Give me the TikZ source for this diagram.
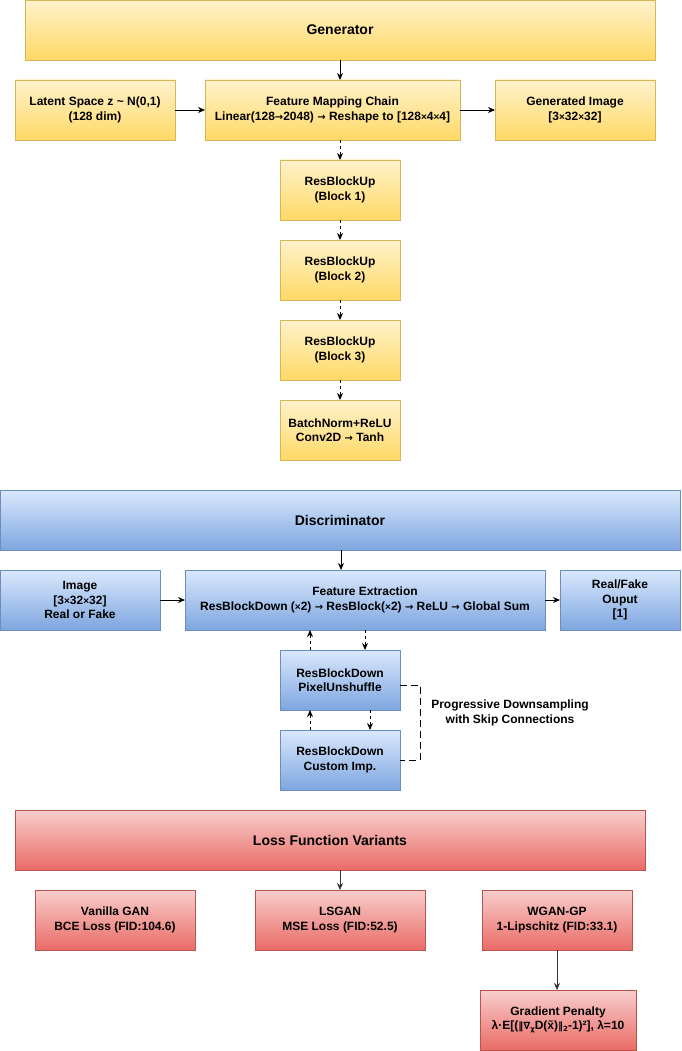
\documentclass[tikz,border=0pt]{standalone}
\usepackage{fontspec}
\setmainfont{Liberation Sans}
\newfontfamily\dejavu{DejaVu Sans}
\usetikzlibrary{arrows.meta}
\definecolor{yTop}{HTML}{FFF2CC}
\definecolor{yBot}{HTML}{FFD966}
\definecolor{yLine}{HTML}{D6B656}
\definecolor{bTop}{HTML}{DAE8FC}
\definecolor{bBot}{HTML}{7EA6E0}
\definecolor{bLine}{HTML}{6C8EBF}
\definecolor{rTop}{HTML}{F8CECC}
\definecolor{rBot}{HTML}{EA6B66}
\definecolor{rLine}{HTML}{B85450}
\newcommand{\xx}{{\fontsize{10}{12}\selectfont ×}}
\newcommand{\ar}{{\dejavu\fontsize{10}{12}\selectfont →}}
\tikzset{
  box/.style={rectangle, inner sep=0pt, outer sep=0pt, line width=0.8pt, align=center,
    font=\fontsize{12}{14.5}\selectfont\bfseries},
  ybox/.style={box, draw=yLine, top color=yTop, bottom color=yBot},
  bbox/.style={box, draw=bLine, top color=bTop, bottom color=bBot},
  rbox/.style={box, draw=rLine, top color=rTop, bottom color=rBot},
  title/.style={font=\fontsize{14}{16}\selectfont\bfseries},
  arr/.style={-{Stealth[length=7pt,width=6pt]}, line width=0.8pt},
  darr/.style={arr, dash pattern=on 3pt off 3pt},
  gridl/.style={line width=0.8pt, dash pattern=on 7pt off 4pt},
}
\begin{document}
\begin{tikzpicture}[x=1pt,y=-1pt]
\useasboundingbox (0,0) rectangle (681,1051);
% Generator
\node[ybox, title, minimum width=630, minimum height=60] (gen) at (340,30) {Generator};
\node[ybox, minimum width=160, minimum height=60] (lat) at (95,110) {Latent Space z \textasciitilde\ N(0,1)\\(128 dim)};
\node[ybox, minimum width=255, minimum height=60] (fmc) at (332.5,110) {Feature Mapping Chain\\Linear(128\ar2048) \ar\ Reshape to [128\xx4\xx4]};
\node[ybox, minimum width=160, minimum height=60] (gim) at (575,110) {Generated Image\\\relax[3\xx32\xx32]};
\node[ybox, minimum width=120, minimum height=60] (rb1) at (340,190) {ResBlockUp\\(Block 1)};
\node[ybox, minimum width=120, minimum height=60] (rb2) at (340,270) {ResBlockUp\\(Block 2)};
\node[ybox, minimum width=120, minimum height=60] (rb3) at (340,350) {ResBlockUp\\(Block 3)};
\node[ybox, minimum width=120, minimum height=60] (bn) at (340,430) {BatchNorm+ReLU\\Conv2D \ar\ Tanh};
\draw[arr] (gen.south -| 340,0) -- (fmc.north -| 340,0);
\draw[arr] (lat.east) -- (fmc.west);
\draw[arr] (fmc.east) -- (gim.west);
\draw[darr] (fmc.south -| rb1.north) -- (rb1.north);
\draw[darr] (rb1.south) -- (rb2.north);
\draw[darr] (rb2.south) -- (rb3.north);
\draw[darr] (rb3.south) -- (bn.north);
% Discriminator
\node[bbox, title, minimum width=680, minimum height=60] (dis) at (340,520) {Discriminator};
\node[bbox, minimum width=160, minimum height=60] (img) at (80,600) {Image\\\relax[3\xx32\xx32]\\Real or Fake};
\node[bbox, minimum width=360, minimum height=60] (fe) at (365,600) {Feature Extraction\\ResBlockDown (\xx2) \ar\ ResBlock(\xx2) \ar\ ReLU \ar\ Global Sum};
\node[bbox, minimum width=120, minimum height=60] (rf) at (620,600) {Real/Fake\\Ouput\\\relax[1]};
\node[bbox, minimum width=120, minimum height=60] (pu) at (340,680) {ResBlockDown\\PixelUnshuffle};
\node[bbox, minimum width=120, minimum height=60] (ci) at (340,760) {ResBlockDown\\Custom Imp.};
\node[box, anchor=center] (prog) at (510,713) {Progressive Downsampling\\with Skip Connections};
\coordinate (bra) at (420,685);
\coordinate (brb) at (420,760);
\draw[arr] (dis.south -| 341,0) -- (fe.north -| 341,0);
\draw[arr] (img.east) -- (fe.west);
\draw[arr] (fe.east) -- (rf.west);
\draw[darr] (pu.north -| 310,0) -- (fe.south -| 310,0);
\draw[darr] (fe.south -| 365,0) -- (pu.north -| 365,0);
\draw[darr] (ci.north -| 310,0) -- (pu.south -| 310,0);
\draw[darr] (pu.south -| 370,0) -- (ci.north -| 370,0);
\draw[gridl] (pu.east |- bra) -- (bra) -- (brb) -- (ci.east |- brb);
% Loss
\node[rbox, title, minimum width=630, minimum height=60] (loss) at (330,840) {Loss Function Variants};
\node[rbox, minimum width=160, minimum height=60] (van) at (115,920) {Vanilla GAN\\BCE Loss (FID:104.6)};
\node[rbox, minimum width=170, minimum height=60] (ls) at (340,920) {LSGAN\\MSE Loss (FID:52.5)};
\node[rbox, minimum width=150, minimum height=60] (wg) at (557,920) {WGAN-GP\\1-Lipschitz (FID:33.1)};
\node[rbox, minimum width=156, minimum height=60] (gp) at (558,1020) {Gradient Penalty\\λ·E[({\dejavu\fontsize{10}{12}\selectfont ‖∇\raisebox{-0.4ex}{\fontsize{7}{8}\selectfont χ}}D(\~{x}){\dejavu\fontsize{10}{12}\selectfont ‖\raisebox{-0.4ex}{\fontsize{7}{8}\selectfont 2}}-1)²], λ=10};
\draw[arr, draw=black!80] (loss.south -| 340,0) -- (ls.north);
\draw[arr, draw=black!80] (wg.south) -- (wg.south |- gp.north);
\end{tikzpicture}
\end{document}
